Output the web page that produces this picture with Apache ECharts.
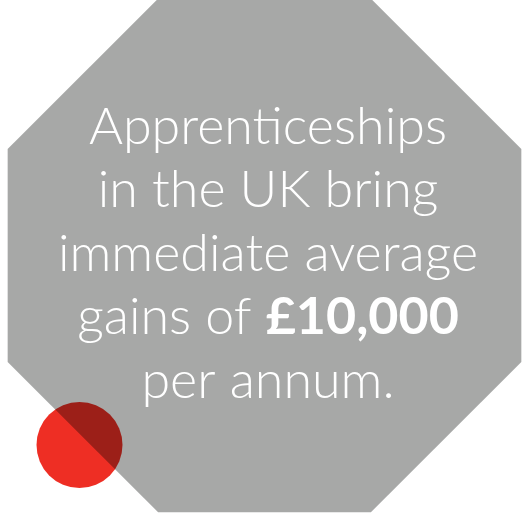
<!DOCTYPE html>
<html>
<head>
<meta charset="utf-8">
<script src="https://cdn.jsdelivr.net/npm/echarts@6/dist/echarts.min.js"></script>
<style>html,body{margin:0;padding:0;background:#fff}#c{width:525px;height:518px}</style>
</head>
<body>
<div id="c"></div>
<script>
// Text lines of the infographic ({b|...} marks bold part)
const lines = [
  'Apprenticeships',
  'in the UK bring',
  'immediate average',
  'gains of {b|£10,000}',
  'per annum.'
];
const octagon = { cx: 264.5, cy: 255.5, r: 278 };
const dot = { cx: 79.5, cy: 445, r: 43 };
const colors = { grey: '#a7a8a7', red: '#ee2e24', text: '#ffffff' };

const chart = echarts.init(document.getElementById('c'), null, { renderer: 'canvas' });
const pts = [];
for (let i = 0; i < 8; i++) {
  const a = (Math.PI / 8) + i * Math.PI / 4;
  pts.push([octagon.cx + octagon.r * Math.cos(a), octagon.cy + octagon.r * Math.sin(a)]);
}
const font = 'Lato';
const fs = 52;
const textEls = lines.map((t, i) => ({
  type: 'text',
  x: 268,
  y: 127 + i * 63.5,
  style: {
    text: t,
    fill: colors.text,
    fontFamily: font,
    fontSize: fs,
    fontWeight: 300,
    align: 'center',
    verticalAlign: 'middle',
    rich: {
      b: { fontFamily: font, fontSize: fs, fontWeight: 'bold', fill: colors.text }
    }
  }
}));
chart.setOption({
  backgroundColor: '#ffffff',
  graphic: [
    { type: 'polygon', shape: { points: pts }, style: { fill: colors.grey } },
    ...textEls,
    { type: 'circle', shape: { cx: dot.cx, cy: dot.cy, r: dot.r }, style: { fill: colors.red, blend: 'multiply' } }
  ]
});
</script>
</body>
</html>
